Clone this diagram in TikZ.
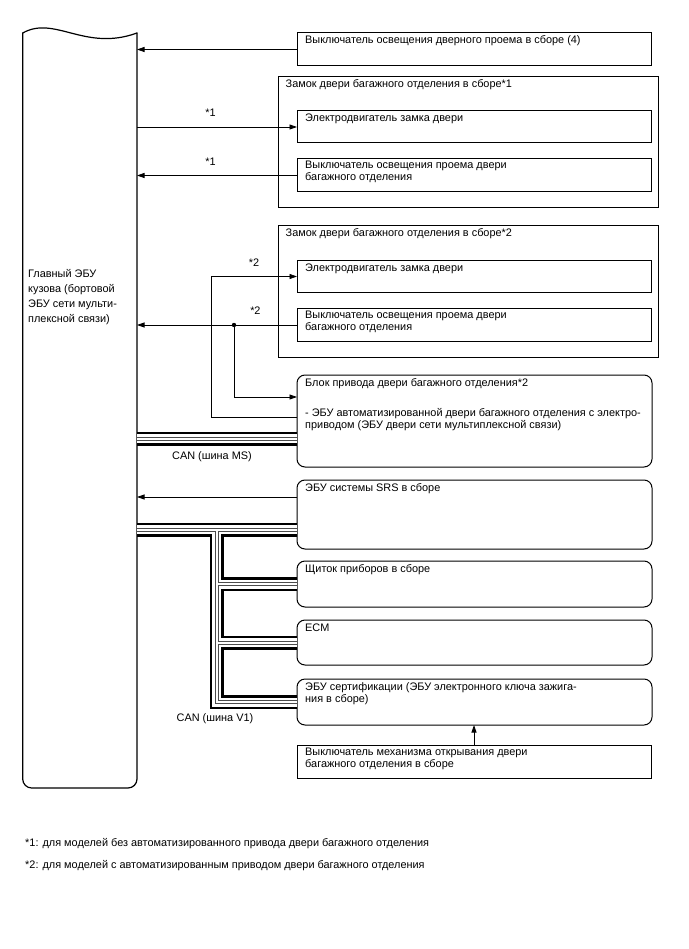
\documentclass[tikz,border=0pt]{standalone}
\usepackage{fontspec}
\setmainfont{Liberation Sans}
\usetikzlibrary{arrows.meta,positioning}

\begin{document}
\begin{tikzpicture}[x=1pt,y=-1pt,
    unitbox/.style={draw,anchor=north west,inner sep=0pt,outer sep=0pt,minimum width=354pt,line width=1pt},
    roundbox/.style={unitbox,rounded corners=8pt,minimum width=355pt},
    groupbox/.style={unitbox,minimum width=380pt,minimum height=131pt},
    txt/.style={font=\fontsize{10.9}{12}\selectfont,align=left,inner sep=0pt,anchor=north west},
    note/.style={font=\fontsize{10.9}{12}\selectfont,inner sep=0pt},
    arr/.style={-{Triangle[length=7.5pt,width=5pt]},line width=0.8pt}]
  \useasboundingbox (0,0) rectangle (688,949);

  % main body ECU
  \node[anchor=north west,inner sep=0pt,outer sep=0pt,minimum width=114.3pt,minimum height=755pt] (ecu) at (22.7,33) {};
  \draw[line width=1.2pt,line cap=round,rounded corners=9pt] (ecu.north east) -- (ecu.south east) -- (ecu.south west) -- (ecu.north west);
  \draw[line width=1.2pt,line cap=round] (ecu.north west) .. controls +(32,-18) and +(-52,19) .. (ecu.north east);
  \node[txt] (ecut) at (28,269) {Главный ЭБУ\\[3pt]кузова (бортовой\\[3pt]ЭБУ сети мульти-\\[3pt]плексной связи)};

  % boxes
  \node[unitbox,minimum height=33pt] (dsw) at (297,33) {};
  \node[groupbox] (lk1) at (278.5,77) {};
  \node[unitbox,minimum height=32pt] (mot1) at (297,111) {};
  \node[unitbox,minimum height=33pt] (sw1) at (297,159) {};
  \node[groupbox] (lk2) at (278.5,226) {};
  \node[unitbox,minimum height=31pt] (mot2) at (297,261) {};
  \node[unitbox,minimum height=33pt] (sw2) at (297,308.5) {};
  \node[roundbox,minimum height=92pt] (pdu) at (297,375) {};
  \node[roundbox,minimum height=69pt] (srs) at (297,480) {};
  \node[roundbox,minimum height=46pt] (ipc) at (297,561) {};
  \node[roundbox,minimum height=45pt] (ecm) at (297,620) {};
  \node[roundbox,minimum height=46pt] (cert) at (297,679) {};
  \node[unitbox,minimum height=33pt] (tsw) at (297,745) {};

  \node[txt,below right=2.3pt and 8pt of dsw.north west] (dswt) {Выключатель освещения дверного проема в сборе (4)};
  \node[txt,below right=2.3pt and 7pt of lk1.north west] (lk1t) {Замок двери багажного отделения в сборе*1};
  \node[txt,below right=2.3pt and 8pt of mot1.north west] (mot1t) {Электродвигатель замка двери};
  \node[txt,below right=2.3pt and 8pt of sw1.north west] (sw1t) {Выключатель освещения проема двери\\багажного отделения};
  \node[txt,below right=2.3pt and 7pt of lk2.north west] (lk2t) {Замок двери багажного отделения в сборе*2};
  \node[txt,below right=2.3pt and 8pt of mot2.north west] (mot2t) {Электродвигатель замка двери};
  \node[txt,below right=2.3pt and 8pt of sw2.north west] (sw2t) {Выключатель освещения проема двери\\багажного отделения};
  \node[txt,below right=3.8pt and 8pt of pdu.north west] (pdut) {Блок привода двери багажного отделения*2\\[18pt]- ЭБУ автоматизированной двери багажного отделения с электро-\\приводом (ЭБУ двери сети мультиплексной связи)};
  \node[txt,below right=3.8pt and 8pt of srs.north west] (srst) {ЭБУ системы SRS в сборе};
  \node[txt,below right=3.8pt and 8pt of ipc.north west] (ipct) {Щиток приборов в сборе};
  \node[txt,below right=3.8pt and 8pt of ecm.north west] (ecmt) {ECM};
  \node[txt,below right=3.8pt and 8pt of cert.north west] (certt) {ЭБУ сертификации (ЭБУ электронного ключа зажига-\\ния в сборе)};
  \node[txt,below right=2.3pt and 8pt of tsw.north west] (tswt) {Выключатель механизма открывания двери\\багажного отделения в сборе};

  % signal lines
  \draw[arr] (dsw.west) -- (dsw.west -| ecu.east);
  \draw[arr] (ecu.east |- mot1.west) -- node[note,above=10pt,pos=0.46] (n1a) {*1} (mot1.west);
  \draw[arr] (sw1.west) -- node[note,above=10pt,pos=0.54] (n1b) {*1} (sw1.west -| ecu.east);
  \draw[arr] (sw2.west) -- node[note,above=10pt,pos=0.26] (n2b) {*2} (sw2.west -| ecu.east);
  \path (sw2.west) ++(-63,0) coordinate (jn);
  \path (pdu.north west) ++(0,22) coordinate (pduin);
  \path (pdu.north west) ++(0,42) coordinate (pduout);
  \path (mot2.west) ++(-86,0) coordinate (kn);
  \fill (jn) circle (2.2pt);
  \draw[arr] (jn) |- (pduin);
  \draw[arr] (pduout) -| (kn) -- node[note,above=10pt] (n2a) {*2} (mot2.west);
  \path (srs.north west) ++(0,17) coordinate (srsout);
  \draw[arr] (srsout) -- (srsout -| ecu.east);
  \draw[arr] (tsw.north) -- (tsw.north |- cert.south);

  % CAN buses
  \coordinate (ms) at (0,438.5);
  \coordinate (tap) at (216.5,529.5);
  \foreach \w/\c in {14/black,9/white,4/black!70,2/white}
    \draw[line width=\w pt,draw=\c]
      (ms -| ecu.east) -- (ms -| pdu.west)
      (tap -| ecu.east) -- (tap -| srs.west)
      (tap) |- (cert.west)
      (tap |- ipc.west) -- (ipc.west)
      (tap |- ecm.west) -- (ecm.west);
  \node[note] (canms) at (212,457) {CAN (шина MS)};
  \node[note] (canv1) at (215,719) {CAN (шина V1)};

  % footnotes
  \node[note,anchor=west] (fn1) at (25,844) {*1: для моделей без автоматизированного привода двери багажного отделения};
  \node[note,anchor=west] (fn2) at (25,866) {*2: для моделей с автоматизированным приводом двери багажного отделения};
\end{tikzpicture}
\end{document}
